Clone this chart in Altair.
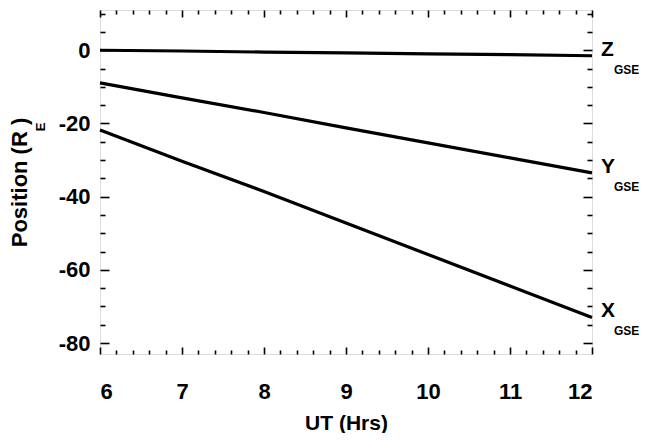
import altair as alt
import pandas as pd

# ---- data ----
ut_hours = [6, 7, 8, 9, 10, 11, 12]
x_gse = [-21.8, -30.3, -38.6, -47.2, -55.8, -64.4, -73.0]
y_gse = [-8.9, -13.0, -17.0, -21.2, -25.3, -29.4, -33.5]
z_gse = [0.0, -0.2, -0.5, -0.7, -1.0, -1.2, -1.5]

series_names = ["X", "Y", "Z"]
label_main = ["X", "Y", "Z"]
label_sub = ["GSE", "GSE", "GSE"]
label_y = [-73.0, -33.5, -1.5]

x_major = [6, 7, 8, 9, 10, 11, 12]
x_minor = [round(6 + 0.2 * i, 1) for i in range(31) if i % 5 != 0]
y_major = [-80, -60, -40, -20, 0]
y_minor = [v for v in range(-80, 11, 5) if v % 20 != 0]

X_DOMAIN = [6, 12]
Y_DOMAIN = [-83, 11]
FONT = "Liberation Sans"

rows = []
for name, vals in zip(series_names, [x_gse, y_gse, z_gse]):
    for h, v in zip(ut_hours, vals):
        rows.append({"series": name, "ut": h, "pos": v})
df = pd.DataFrame(rows)

lab = pd.DataFrame({"main": label_main, "sub": label_sub, "ut": [12] * 3, "pos": label_y})

xs = alt.Scale(domain=X_DOMAIN, nice=False, zero=False)
ys = alt.Scale(domain=Y_DOMAIN, nice=False, zero=False)


def ax(orient, values, labels=False, tick=0, title=None, **kw):
    args = dict(orient=orient, values=values, labels=labels, domain=False,
                grid=False, title=title)
    if tick > 0:
        args.update(ticks=True, tickSize=tick, offset=-tick, tickColor="black",
                    tickWidth=1.6)
    else:
        args.update(ticks=False)
    args.update(kw)
    return alt.Axis(**args)


lines = alt.Chart(df).mark_line(color="black", strokeWidth=3.2).encode(
    x=alt.X("ut:Q", scale=xs,
            axis=ax("bottom", x_major, labels=True, title="UT (Hrs)",
                    labelExpr="'' + datum.value",
                    labelFont=FONT, labelFontSize=22, labelFontWeight="bold",
                    labelColor="black", labelPadding=27,
                    titleFont=FONT, titleFontSize=21, titleFontWeight="bold",
                    titleColor="black", titlePadding=10)),
    y=alt.Y("pos:Q", scale=ys,
            axis=ax("left", y_major, labels=True, title="Position (R  )",
                    labelExpr="'' + datum.value",
                    labelFont=FONT, labelFontSize=22, labelFontWeight="bold",
                    labelColor="black", labelPadding=10,
                    titleFont=FONT, titleFontSize=22, titleFontWeight="bold",
                    titleColor="black", titlePadding=27)),
    detail="series:N",
)


def tick_layer(xo, xv, xt, yo, yv, yt):
    return alt.Chart(df).mark_point(opacity=0).encode(
        x=alt.X("ut:Q", scale=xs, axis=ax(xo, xv, tick=xt)),
        y=alt.Y("pos:Q", scale=ys, axis=ax(yo, yv, tick=yt)),
    )


t1 = tick_layer("bottom", x_major, 7, "left", y_major, 9)
t2 = tick_layer("bottom", x_minor, 4, "left", y_minor, 5)
t3 = tick_layer("top", x_major, 7, "right", y_major, 9)
t4 = tick_layer("top", x_minor, 4, "right", y_minor, 5)

main_txt = alt.Chart(lab).mark_text(
    align="left", baseline="middle", dx=9, dy=-6, font=FONT, fontSize=21,
    fontWeight="bold", color="black").encode(
    x=alt.X("ut:Q", scale=xs, axis=None), y=alt.Y("pos:Q", scale=ys, axis=None),
    text="main:N")

sub_txt = alt.Chart(lab).mark_text(
    align="left", baseline="middle", dx=22, dy=14, font=FONT, fontSize=12,
    fontWeight="bold", color="black").encode(
    x=alt.X("ut:Q", scale=xs, axis=None), y=alt.Y("pos:Q", scale=ys, axis=None),
    text="sub:N")

e_sub = alt.Chart(pd.DataFrame({"t": ["E"]})).mark_text(
    angle=270, font=FONT, fontSize=13, fontWeight="bold", color="black").encode(
    text="t:N", x=alt.value(-59), y=alt.value(117))

chart = alt.layer(lines, t1, t2, t3, t4, main_txt, sub_txt, e_sub).resolve_axis(
    x="independent", y="independent"
).properties(
    width=492, height=344,
    autosize=alt.AutoSizeParams(type="none"),
    padding={"left": 92, "top": 2, "right": 47, "bottom": 79},
).configure_view(stroke="black", strokeWidth=2.5).configure(background="white")

chart.save("out.html", embed_options={"renderer": "svg", "actions": False})
